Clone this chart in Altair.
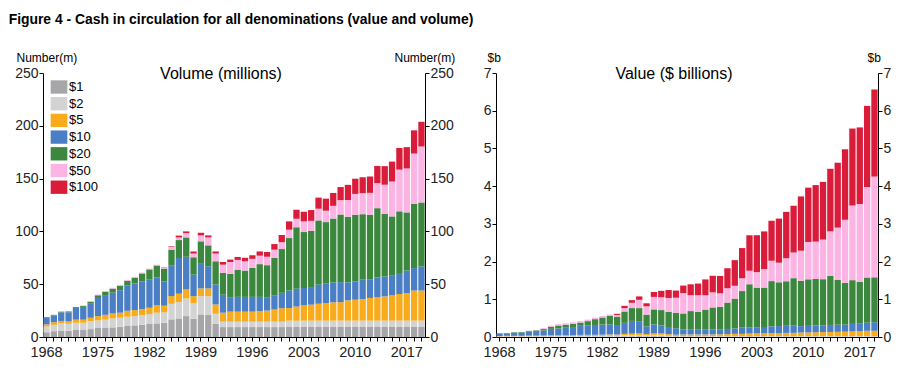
import altair as alt
import pandas as pd

years = list(range(1968, 2020))
denoms = ["$1", "$2", "$5", "$10", "$20", "$50", "$100"]
colors = ["#a6a6a8", "#d3d3d3", "#f9ab1e", "#4a7fc5", "#3c873e", "#fbb4e4", "#da1c3b"]

# ---- Volume (millions of notes), 1968..2019 ----
vol_1 = [4.5, 5.5, 6.0, 6.0, 6.6, 6.6, 7.5, 8.5, 8.5, 9.1, 9.7, 10.4,
         11.0, 11.6, 12.3, 12.9, 13.5, 16.7, 17.6, 19.8, 17.3, 21.4, 20.8, 12.6,
         9.4, 9.4, 9.4, 9.4, 9.4, 9.4, 9.4, 9.4, 9.4, 9.5, 9.5, 9.5,
         9.5, 9.5, 9.5, 9.5, 9.5, 9.5, 9.5, 9.5, 9.5, 9.5, 9.5, 9.5,
         9.5, 9.5, 9.5, 9.5]
vol_2 = [5.5, 6.0, 7.0, 6.5, 6.9, 6.9, 7.5, 7.2, 7.9, 8.5, 8.5, 8.8,
         8.8, 9.2, 9.4, 10.1, 9.8, 14.7, 15.4, 16.7, 14.5, 17.3, 17.9, 9.4,
         5.1, 5.1, 5.1, 5.1, 5.1, 5.1, 5.1, 5.1, 5.1, 6.0, 6.0, 6.0,
         6.0, 6.0, 6.0, 6.0, 6.0, 6.0, 6.0, 6.0, 6.0, 6.0, 6.0, 6.0,
         6.0, 6.0, 6.0, 6.0]
vol_5 = [2.0, 2.5, 2.2, 2.3, 2.9, 2.9, 3.2, 4.1, 4.6, 4.7, 4.8, 5.6,
         5.7, 5.6, 6.0, 7.0, 6.3, 7.3, 8.0, 8.5, 6.9, 7.3, 7.3, 8.8,
         8.5, 9.5, 9.5, 9.5, 9.5, 10.0, 10.5, 11.5, 12.8, 11.9, 13.5, 14.5,
         15.1, 16.0, 16.5, 17.3, 17.5, 19.2, 19.8, 20.5, 21.5, 22.4, 23.0, 23.9,
         25.2, 26.1, 28.5, 28.5]
vol_10 = [6.3, 6.3, 8.1, 8.6, 11.1, 12.1, 13.3, 17.2, 18.0, 19.7, 21.3, 24.2,
          25.1, 26.1, 27.0, 26.5, 22.9, 29.3, 33.8, 31.0, 20.3, 24.0, 21.0, 18.9,
          17.0, 13.7, 14.0, 14.0, 14.0, 13.5, 12.7, 13.6, 14.5, 16.6, 16.7, 16.4,
          16.7, 18.0, 18.5, 18.9, 19.0, 17.0, 17.4, 18.3, 17.3, 18.6, 18.9, 18.6,
          19.9, 21.4, 21.3, 22.8]
vol_20 = [0.6, 0.7, 0.7, 0.8, 0.8, 1.0, 1.9, 2.5, 3.8, 3.8, 4.3, 4.2,
          5.6, 7.7, 9.3, 11.2, 12.3, 14.7, 17.0, 18.3, 16.5, 20.6, 19.8, 22.0,
          20.7, 22.0, 25.8, 24.9, 27.4, 31.0, 30.3, 35.2, 41.5, 49.7, 58.3, 53.0,
          53.3, 60.9, 58.3, 60.5, 64.0, 62.0, 63.0, 62.0, 61.5, 65.5, 59.3, 56.2,
          58.4, 55.0, 60.7, 60.6]
vol_50 = [0, 0, 0, 0, 0, 0.2, 0.5, 0.7, 0.7, 0.8, 0.8, 0.8,
          0.8, 0.8, 0.8, 0.8, 0.9, 2.8, 2.5, 4.1, 3.5, 5.6, 7.5, 7.3,
          7.8, 11.3, 9.2, 8.8, 8.6, 8.0, 8.0, 7.9, 6.5, 7.9, 8.0, 10.1,
          9.4, 11.1, 10.8, 12.0, 13.6, 16.0, 19.8, 20.0, 20.7, 23.7, 27.5, 33.0,
          39.5, 41.6, 47.7, 53.0]
vol_100 = [0, 0, 0, 0, 0, 0, 0, 0, 0, 0, 0, 0,
           0, 0, 0, 0, 0.3, 0.5, 1.7, 1.6, 2.0, 2.5, 1.9, 2.0,
           2.5, 2.3, 2.8, 3.3, 3.4, 4.0, 4.5, 5.3, 6.8, 7.9, 8.5, 9.1,
           10.2, 10.5, 11.4, 12.2, 12.4, 14.4, 14.4, 15.0, 15.5, 16.3, 17.6, 18.9,
           20.5, 20.2, 22.0, 23.4]

# ---- Value ($ billions), 1968..2019 ----
val_1 = [.005, .006, .006, .006, .007, .007, .008, .009, .009, .009, .010, .010,
         .011, .012, .012, .013, .014, .017, .018, .020, .017, .021, .021, .013,
         .009, .009, .009, .009, .009, .009, .009, .009, .009, .010, .010, .010,
         .010, .010, .010, .010, .010, .010, .010, .010, .010, .010, .010, .010,
         .010, .010, .010, .010]
val_2 = [.011, .012, .014, .013, .014, .014, .015, .014, .016, .017, .017, .018,
         .018, .018, .019, .020, .020, .029, .031, .033, .029, .035, .036, .019,
         .010, .010, .010, .010, .010, .010, .010, .010, .010, .012, .012, .012,
         .012, .012, .012, .012, .012, .012, .012, .012, .012, .012, .012, .012,
         .012, .012, .012, .012]
val_5 = [.010, .013, .011, .012, .015, .015, .016, .021, .023, .024, .024, .028,
         .029, .028, .030, .035, .032, .037, .040, .043, .035, .037, .037, .044,
         .043, .048, .048, .048, .048, .050, .053, .058, .064, .060, .068, .073,
         .076, .080, .083, .087, .088, .096, .099, .103, .108, .112, .115, .120,
         .126, .131, .143, .143]
val_10 = [.063, .063, .081, .086, .111, .121, .133, .172, .180, .197, .213, .242,
          .251, .261, .270, .265, .229, .293, .338, .310, .203, .240, .210, .189,
          .170, .137, .140, .140, .140, .135, .127, .136, .145, .166, .167, .164,
          .167, .180, .185, .189, .190, .170, .174, .183, .173, .186, .189, .186,
          .199, .214, .213, .228]
val_20 = [.012, .014, .014, .016, .016, .020, .038, .050, .076, .076, .086, .084,
          .112, .154, .186, .224, .246, .30, .34, .36, .31, .40, .41, .40,
          .41, .42, .48, .46, .52, .58, .60, .70, .79, .97, 1.14, 1.05,
          1.045, 1.20, 1.16, 1.18, 1.26, 1.20, 1.235, 1.23, 1.23, 1.30, 1.185, 1.11,
          1.16, 1.10, 1.20, 1.19]
val_50 = [0, 0, 0, 0, 0, .010, .025, .035, .035, .040, .040, .040,
          .040, .040, .040, .040, .045, .09, .14, .22, .22, .33, .34, .37,
          .40, .54, .42, .44, .38, .40, .36, .38, .34, .34, .36, .41,
          .49, .54, .52, .61, .68, .80, .99, .99, 1.05, 1.18, 1.39, 1.67,
          1.98, 2.06, 2.40, 2.67]
val_100 = [0, 0, 0, 0, 0, 0, 0, 0, 0, 0, 0, 0,
           0, 0, 0, 0, .03, .06, .07, .09, .08, .13, .17, .21,
           .19, .20, .29, .31, .42, .44, .46, .53, .68, .80, .94, .98,
           1.00, 1.06, 1.17, 1.23, 1.24, 1.44, 1.44, 1.50, 1.53, 1.66, 1.72, 1.87,
           2.04, 2.03, 2.15, 2.31]


def long_df(series):
    rows = []
    for k, (d, arr) in enumerate(zip(denoms, series)):
        for y, v in zip(years, arr):
            rows.append({"year": y, "denom": d, "ord": k, "v": v})
    return pd.DataFrame(rows)


AX = dict(labelColor="#222", tickColor="#000", domainColor="#000", tickSize=4, grid=False)


def panel(df, ymax, ystep, ytitle, ptitle, tx_left, tx_right):
    yvals = list(range(0, ymax + 1, ystep))
    xenc = alt.X(
        "year:O",
        scale=alt.Scale(paddingInner=0.14, paddingOuter=0.05),
        axis=alt.Axis(title=None, labelAngle=0, labelOverlap=False, labelPadding=4,
                      labelFontSize=14.5,
                      labelExpr="(datum.value - 1968) % 7 == 0 ? datum.label : ''", **AX),
    )
    ytitle_kw = dict(titleAngle=0, titleAlign="left", titleBaseline="bottom", titleY=-9,
                     titleFontSize=12, titleFontWeight="normal", titleColor="#000")
    bars = alt.Chart(df).mark_bar().encode(
        x=xenc,
        y=alt.Y("v:Q", stack="zero", scale=alt.Scale(domain=[0, ymax], nice=False),
                axis=alt.Axis(values=yvals, title=ytitle, titleX=tx_left, labelPadding=1,
                              labelFontSize=14, **ytitle_kw, **AX)),
        color=alt.Color("denom:N", scale=alt.Scale(domain=denoms, range=colors),
                        legend=alt.Legend(title=None, orient="none", legendX=9, legendY=7,
                                          symbolType="M-1.25,-1H1.25V1H-1.25Z",
                                          symbolSize=178, symbolStrokeWidth=0,
                                          labelFontSize=13, labelColor="#000",
                                          labelOffset=3, rowPadding=2.7)),
        order=alt.Order("ord:Q", sort="ascending"),
    )
    right_axis = alt.Chart(pd.DataFrame({"v": [0]})).mark_rule(opacity=0).encode(
        y=alt.Y("v:Q", scale=alt.Scale(domain=[0, ymax], nice=False),
                axis=alt.Axis(orient="right", values=yvals, title=ytitle, titleX=tx_right,
                              labelPadding=1, labelFontSize=14, **ytitle_kw, **AX))
    )
    ttl = alt.Chart(pd.DataFrame({"t": [ptitle]})).mark_text(
        fontSize=16, align="center", baseline="middle", color="#000"
    ).encode(text="t:N", x=alt.value(178), y=alt.value(1))
    return alt.layer(bars, right_axis, ttl).resolve_scale(y="independent").properties(
        width=382, height=264)


left = panel(long_df([vol_1, vol_2, vol_5, vol_10, vol_20, vol_50, vol_100]),
             250, 50, "Number(m)", "Volume (millions)", -27, -31)
right = panel(long_df([val_1, val_2, val_5, val_10, val_20, val_50, val_100]),
              7, 1, "$b", "Value ($ billions)", -9, -11)

chart = alt.hconcat(left, right, spacing=27).properties(
    title=alt.TitleParams("Figure 4 - Cash in circulation for all denominations (value and volume)",
                          anchor="start", fontSize=13.9, fontWeight="bold", color="#000",
                          offset=24, dx=-6),
    padding={"left": 0, "top": 5, "right": 5, "bottom": 5},
).configure(font="Liberation Sans").configure_view(stroke=None)

chart.save("out.html", embed_options={"renderer": "svg", "actions": False})
